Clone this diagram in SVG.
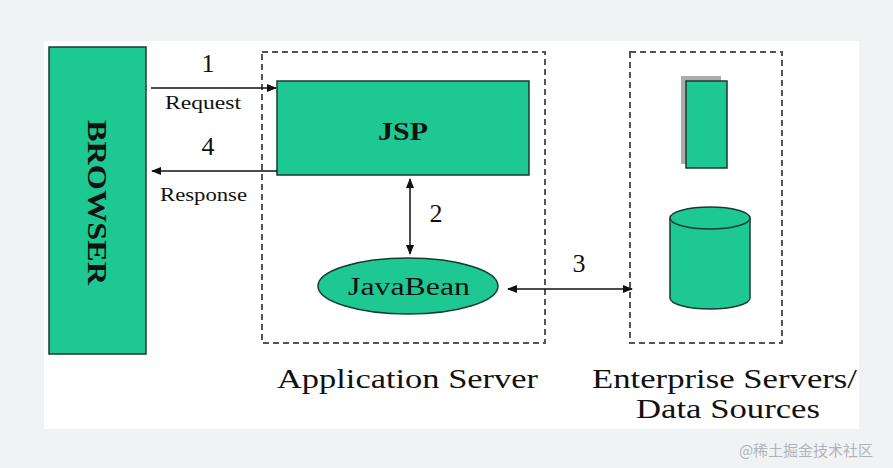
<svg xmlns="http://www.w3.org/2000/svg" width="893" height="468" viewBox="0 0 893 468">
<style>
.g{fill:#1dc893;stroke:#1a3a30;stroke-width:1.5}
.d{fill:none;stroke:#555;stroke-width:2;stroke-dasharray:6,4}
.t{font-family:"Liberation Serif",serif;fill:#111}
.c{stroke:#111;stroke-width:1.5;fill:none}
</style>
<defs>
<marker id="a" markerWidth="10" markerHeight="8" refX="9" refY="4" orient="auto-start-reverse" markerUnits="userSpaceOnUse"><path d="M0,0L10,4L0,8z" fill="#111"/></marker>
</defs>
<rect width="893" height="468" fill="#f1f2f4"/>
<rect x="44" y="41" width="815" height="388" fill="#fff"/>
<g id="browser"><rect class="g" x="49" y="47" width="97" height="307"/>
<text class="t" font-size="28" font-weight="bold" transform="translate(88,120) rotate(90)" textLength="165" lengthAdjust="spacingAndGlyphs">BROWSER</text></g>
<g id="appserver"><rect class="d" x="262" y="52" width="283" height="291"/>
<text class="t" x="277" y="388" font-size="27" textLength="261" lengthAdjust="spacingAndGlyphs">Application Server</text></g>
<g id="jsp"><rect class="g" x="277" y="81" width="252" height="94"/>
<text class="t" x="378" y="140" font-size="25" font-weight="bold" textLength="50" lengthAdjust="spacingAndGlyphs">JSP</text></g>
<g id="javabean"><ellipse class="g" cx="408" cy="286" rx="90" ry="28"/>
<text class="t" x="348" y="295" font-size="25" textLength="122" lengthAdjust="spacingAndGlyphs">JavaBean</text></g>
<g id="enterprise"><rect class="d" x="630" y="52" width="152" height="291"/>
<rect x="681" y="76" width="40" height="88" fill="#888" opacity="0.7"/>
<rect class="g" x="686" y="81" width="41" height="87"/>
<path class="g" d="M670,218V298A40,11 0 0 0 750,298V218"/>
<ellipse class="g" cx="710" cy="218" rx="40" ry="11" fill="#2ed39f"/>
<text class="t" x="592" y="388" font-size="27" textLength="265" lengthAdjust="spacingAndGlyphs">Enterprise Servers/</text>
<text class="t" x="636" y="418" font-size="27" textLength="184" lengthAdjust="spacingAndGlyphs">Data Sources</text></g>
<g id="connectors">
<line class="c" x1="151" y1="88" x2="276" y2="88" marker-end="url(#a)"/>
<line class="c" x1="277" y1="171" x2="152" y2="171" marker-end="url(#a)"/>
<line class="c" x1="410" y1="179" x2="410" y2="254" marker-start="url(#a)" marker-end="url(#a)"/>
<line class="c" x1="508" y1="289" x2="632" y2="289" marker-start="url(#a)" marker-end="url(#a)"/>
<text class="t" x="208" y="72" font-size="26" text-anchor="middle">1</text>
<text class="t" x="165" y="109" font-size="19" textLength="76" lengthAdjust="spacingAndGlyphs">Request</text>
<text class="t" x="208" y="155" font-size="26" text-anchor="middle">4</text>
<text class="t" x="160" y="201" font-size="19" textLength="87" lengthAdjust="spacingAndGlyphs">Response</text>
<text class="t" x="436" y="222" font-size="26" text-anchor="middle">2</text>
<text class="t" x="579" y="272" font-size="26" text-anchor="middle">3</text>
</g>
<text x="806" y="456" font-size="15" fill="#b0b4ba" text-anchor="middle" font-family="'Noto Sans CJK SC',sans-serif">@稀土掘金技术社区</text>
</svg>
